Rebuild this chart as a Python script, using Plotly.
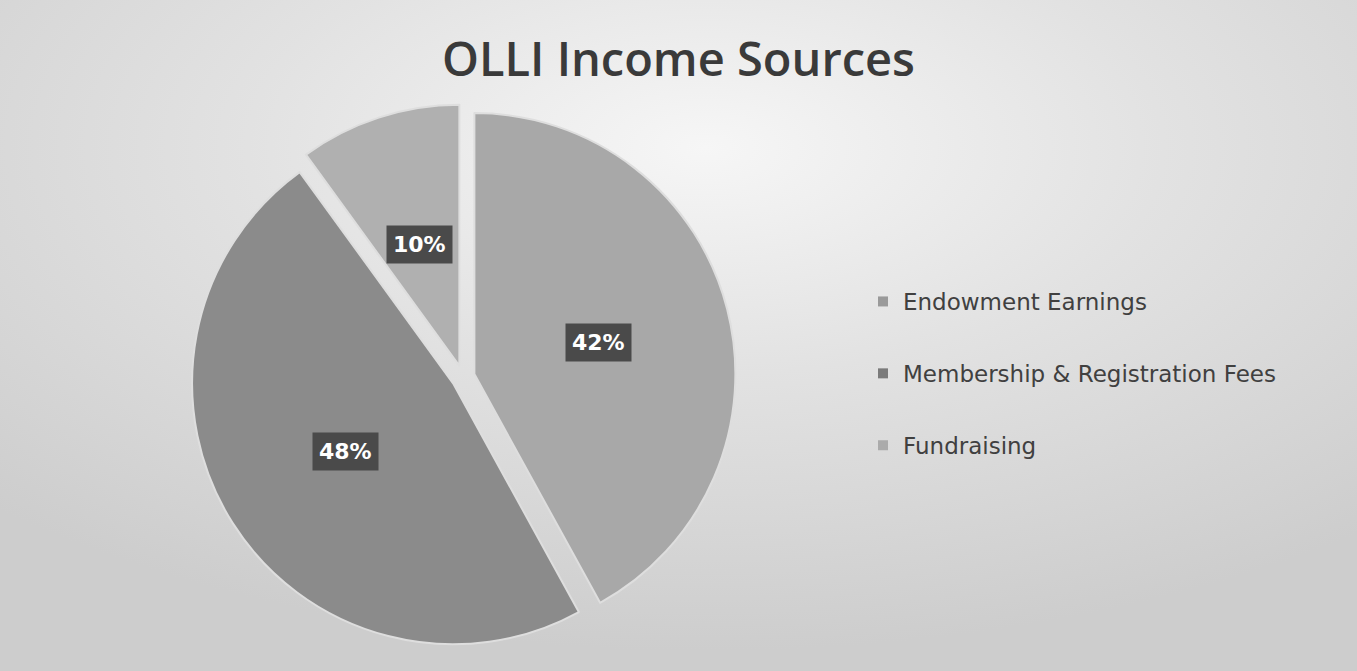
import math
import base64
import plotly.graph_objects as go

# ---- data ----
categories = ["Endowment Earnings", "Membership & Registration Fees", "Fundraising"]
shares = [42, 48, 10]
slice_colors = ["#a8a8a8", "#8b8b8b", "#b0b0b0"]
legend_colors = ["#9a9a9a", "#7a7a7a", "#ababab"]
title_text = "OLLI Income Sources"

# ---- layout constants ----
W, H = 1357, 671
BG = "#d6d6d6"
GAP = "#dedede"
PULL = 0.045
cx_px, cy_px = 463, 377          # pie centre (pixels from top-left)
r_px = 261                       # pie radius
span = r_px * (2 + 2 * PULL)     # domain size that yields that radius
dom_x = [(cx_px - span / 2) / W, (cx_px + span / 2) / W]
dom_y = [(H - cy_px - span / 2) / H, (H - cy_px + span / 2) / H]

# soft light glow behind the chart (scanned-slide look)
svg = (
    "<svg xmlns='http://www.w3.org/2000/svg' width='1357' height='671'>"
    "<defs><radialGradient id='g' cx='0.52' cy='0.22' r='0.75'>"
    "<stop offset='0' stop-color='#f6f6f6'/>"
    "<stop offset='0.45' stop-color='#e2e2e2'/>"
    "<stop offset='1' stop-color='#cdcdcd'/>"
    "</radialGradient></defs>"
    "<rect width='1357' height='671' fill='url(#g)'/></svg>"
)
bg_src = "data:image/svg+xml;base64," + base64.b64encode(svg.encode()).decode()

fig = go.Figure()
fig.add_trace(go.Pie(
    labels=categories,
    values=shares,
    sort=False,
    direction="clockwise",
    rotation=0,
    pull=[PULL] * len(shares),
    marker=dict(colors=slice_colors, line=dict(color=GAP, width=2)),
    textinfo="none",
    hoverinfo="label+percent",
    showlegend=False,
    domain=dict(x=dom_x, y=dom_y),
))

# legend entries (one group each so they can be spaced apart)
for name, col in zip(categories, legend_colors):
    fig.add_trace(go.Scatter(
        x=[None], y=[None], mode="markers", name=name,
        marker=dict(symbol="square", size=10, color=col),
        legendgroup=name, showlegend=True, hoverinfo="skip",
    ))

# percentage labels in dark boxes, positioned from the slice angles
total = sum(shares)
cum = 0
for v in shares:
    mid = (cum + v / 2) / total * 2 * math.pi
    cum += v
    dx, dy = math.sin(mid), -math.cos(mid)
    d = 0.49 * r_px + PULL * r_px
    px = cx_px + d * dx
    py = cy_px + d * dy
    fig.add_annotation(
        x=px / W, y=1 - py / H, xref="paper", yref="paper",
        xanchor="center", yanchor="middle",
        text=f"<b>{round(v / total * 100)}%</b>", showarrow=False,
        font=dict(family="DejaVu Sans", size=22, color="white"),
        bgcolor="#4a4a4a", borderpad=6,
    )

fig.add_layout_image(
    source=bg_src, xref="paper", yref="paper", x=0, y=1, sizex=1, sizey=1,
    xanchor="left", yanchor="top", sizing="stretch", layer="below",
)

fig.update_layout(
    width=W, height=H,
    paper_bgcolor=BG, plot_bgcolor="rgba(0,0,0,0)",
    margin=dict(l=0, r=0, t=0, b=0),
    title=dict(text=title_text, x=0.5, xanchor="center", y=1 - 60 / H, yanchor="middle",
               font=dict(family="Open Sans", size=47, color="#3a3a3a", weight=600)),
    xaxis=dict(visible=False), yaxis=dict(visible=False),
    legend=dict(x=863 / W, y=1 - 280 / H, xanchor="left", yanchor="top",
                traceorder="grouped", tracegroupgap=39,
                font=dict(family="DejaVu Sans", size=23, color="#404040"),
                bgcolor="rgba(0,0,0,0)", itemwidth=30),
)

fig.write_html(
    "out.html",
    config={"displayModeBar": False},
    post_script="document.body.style.margin='0';document.body.style.overflow='hidden';",
)
